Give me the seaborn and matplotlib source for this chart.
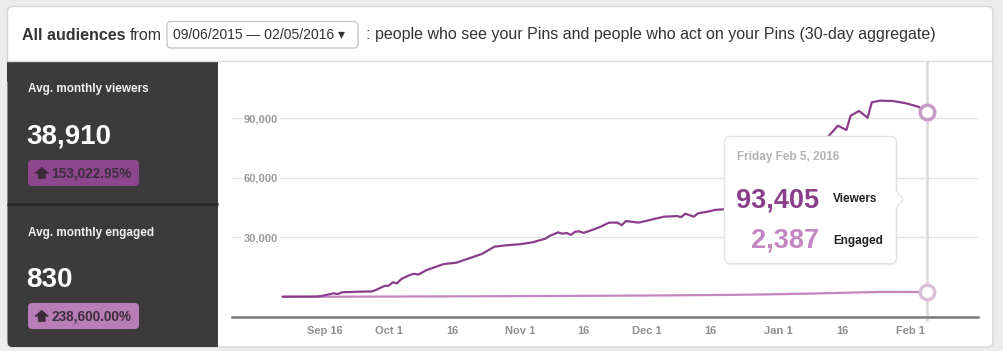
import matplotlib
matplotlib.use("Agg")
import matplotlib.pyplot as plt
import pandas as pd
import seaborn as sns
from matplotlib.patches import FancyBboxPatch, Rectangle, Polygon

# ---------------- data ----------------
viewer_dates = ['2015-09-06', '2015-09-10', '2015-09-14', '2015-09-15', '2015-09-17', '2015-09-18',
                '2015-09-19', '2015-09-20', '2015-09-24', '2015-09-27', '2015-09-28', '2015-09-30',
                '2015-10-01', '2015-10-02', '2015-10-03', '2015-10-04', '2015-10-06', '2015-10-07',
                '2015-10-08', '2015-10-10', '2015-10-14', '2015-10-17', '2015-10-20', '2015-10-23',
                '2015-10-26', '2015-10-29', '2015-11-01', '2015-11-04', '2015-11-07', '2015-11-08',
                '2015-11-10', '2015-11-11', '2015-11-12', '2015-11-13', '2015-11-14', '2015-11-15',
                '2015-11-16', '2015-11-18', '2015-11-20', '2015-11-22', '2015-11-24', '2015-11-25',
                '2015-11-26', '2015-11-29', '2015-12-01', '2015-12-05', '2015-12-08', '2015-12-09',
                '2015-12-10', '2015-12-12', '2015-12-13', '2015-12-15', '2015-12-17', '2015-12-19',
                '2015-12-22', '2015-12-26', '2015-12-30', '2016-01-03', '2016-01-06', '2016-01-09',
                '2016-01-11', '2016-01-13', '2016-01-15', '2016-01-17', '2016-01-18', '2016-01-20',
                '2016-01-22', '2016-01-23', '2016-01-25', '2016-01-28', '2016-01-31', '2016-02-03',
                '2016-02-05']
viewer_values = [61, 70, 120, 350, 1260, 1760,
                 1410, 2270, 2570, 2700, 3430, 5440,
                 5600, 7310, 6800, 8970, 11000, 11600,
                 11200, 13500, 16500, 17200, 19400, 21600,
                 25300, 26000, 26500, 27500, 29300, 30700,
                 32500, 31800, 32200, 31200, 32800, 33000,
                 32200, 33700, 35300, 37400, 37400, 36100,
                 38200, 37400, 38400, 40400, 40700, 40200,
                 41900, 40400, 42100, 42800, 43800, 44100,
                 45200, 46800, 49500, 55000, 62000, 70500,
                 76500, 81500, 86300, 84100, 91300, 93700,
                 90300, 98100, 98900, 98700, 97600, 95800,
                 93405]

engaged_dates = ['2015-09-06', '2015-09-20', '2015-10-05', '2015-10-20', '2015-11-05', '2015-11-20',
                 '2015-12-05', '2015-12-20', '2016-01-01', '2016-01-10', '2016-01-20', '2016-01-26',
                 '2016-02-01', '2016-02-05']
engaged_values = [1, 60, 150, 250, 380, 520,
                  700, 950, 1300, 1700, 2200, 2480,
                  2430, 2387]

x_tick_dates = ['2015-09-16', '2015-10-01', '2015-10-16', '2015-11-01', '2015-11-16',
                '2015-12-01', '2015-12-16', '2016-01-01', '2016-01-16', '2016-02-01']
x_tick_labels = ['Sep 16', 'Oct 1', '16', 'Nov 1', '16', 'Dec 1', '16', 'Jan 1', '16', 'Feb 1']
y_ticks = [30000, 60000, 90000]

kpi_titles = ['Avg. monthly viewers', 'Avg. monthly engaged']
kpi_values = ['38,910', '830']
kpi_changes = ['153,022.95%', '238,600.00%']
series_names = ['Viewers', 'Engaged']
date_range_label = '09/06/2015 \u2014 02/05/2016'
header_bold = 'All audiences'
header_from = 'from'
header_rest = ': people who see your Pins and people who act on your Pins (30-day aggregate)'

# ---------------- style ----------------
VIEW_C = '#8a3e8a'
ENG_C = '#c386c1'
sns.set_theme(style='white')
plt.rcParams['font.family'] = ['Liberation Sans', 'DejaVu Sans']

W, H = 1004, 351
fig = plt.figure(figsize=(W / 100, H / 100), dpi=100, facecolor='#ececec')
renderer = fig.canvas.get_renderer()

# background axes in pixel coordinates (y down)
bg = fig.add_axes([0, 0, 1, 1], zorder=0)
bg.set_xlim(0, W)
bg.set_ylim(H, 0)
bg.axis('off')

bg.add_patch(FancyBboxPatch((7.5, 6.5), 985.5, 340.5, boxstyle='round,pad=0,rounding_size=5',
                            fc='white', ec='#d6d6d6', lw=1))
bg.plot([7.5, 993], [61, 61], color='#dcdcdc', lw=1)

# left dark panel
PANEL = '#3b3b3b'
bg.add_patch(FancyBboxPatch((7.5, 61.5), 210.5, 285.5, boxstyle='round,pad=0,rounding_size=5',
                            fc=PANEL, ec='none'))
bg.add_patch(Rectangle((7.5, 61.5), 210.5, 20, fc=PANEL, ec='none'))
bg.add_patch(Rectangle((195, 61.5), 23, 285.5, fc=PANEL, ec='none'))
bg.plot([7.5, 218], [203.5, 203.5], color='#2a2a2a', lw=2.2, solid_capstyle='butt')

badge_colors = ['#8d478d', '#b87db6']
title_y = [89, 233]
value_y = [136, 280]
badge_y = [160, 303]
ICON_C = '#3a2a3a'
for i in range(2):
    bg.text(28, title_y[i], kpi_titles[i], color='#f2f2f2', fontsize=8.5, fontweight='bold', va='center')
    bg.text(26.5, value_y[i], kpi_values[i], color='white', fontsize=20, fontweight='bold', va='center')
    bg.add_patch(FancyBboxPatch((28, badge_y[i]), 111, 26, boxstyle='round,pad=0,rounding_size=4',
                                fc=badge_colors[i], ec='none'))
    by = badge_y[i]
    bg.add_patch(Polygon([(41.7, by + 7.3), (48.5, by + 13.2), (45.2, by + 13.2), (45.2, by + 18.5),
                          (38.2, by + 18.5), (38.2, by + 13.2), (35, by + 13.2)], closed=True,
                         fc=ICON_C, ec=ICON_C, lw=0.5))
    bg.text(51.5, by + 13.5, kpi_changes[i], color='#3d2e3d', fontsize=9.8, fontweight='bold',
            va='center')

# header
HC = '#333333'
t1 = bg.text(22, 35, header_bold, fontsize=11.5, fontweight='bold', color=HC, va='center')
x1 = t1.get_window_extent(renderer).x1
bg.text(x1 + 4, 35, header_from, fontsize=11.5, color=HC, va='center')
bg.add_patch(FancyBboxPatch((167, 21.5), 191, 26.5, boxstyle='round,pad=0,rounding_size=4',
                            fc='white', ec='#c8c8c8', lw=1))
bg.text(173, 35, date_range_label + ' \u25be', fontsize=10, color=HC, va='center')
bg.text(366, 35, header_rest, fontsize=11.5, color=HC, va='center')

# ---------------- chart ----------------
L, R, T, B = 232, 978, 62, 317
ax = fig.add_axes([L / W, 1 - B / H, (R - L) / W, (B - T) / H], zorder=1)
ax.set_facecolor('none')

vdf = pd.DataFrame({'date': pd.to_datetime(viewer_dates), 'value': viewer_values})
edf = pd.DataFrame({'date': pd.to_datetime(engaged_dates), 'value': engaged_values})
sns.lineplot(data=edf, x='date', y='value', ax=ax, color=ENG_C, lw=1.6, zorder=3)
sns.lineplot(data=vdf, x='date', y='value', ax=ax, color=VIEW_C, lw=1.6, zorder=4)

ax.set_ylim(-10185, 118386)
ax.set_xlim(pd.Timestamp('2015-09-16') - pd.Timedelta(days=21.94),
            pd.Timestamp('2015-09-16') + pd.Timedelta(days=154.05))
ax.set_xticks(pd.to_datetime(x_tick_dates))
ax.set_xticklabels(x_tick_labels)
ax.set_yticks(y_ticks)
ax.set_yticklabels([f'{v:,}' for v in y_ticks])
ax.set_xlabel('')
ax.set_ylabel('')
ax.yaxis.grid(True, color='#e3e3e3', lw=1)
ax.xaxis.grid(False)
ax.tick_params(axis='x', length=0, pad=6.5, labelsize=8, labelcolor='#8f8f8f')
ax.tick_params(axis='y', length=0, pad=-8.5, labelsize=8, labelcolor='#9a9a9a')
for lbl in ax.get_xticklabels():
    lbl.set_fontweight('bold')
for lbl in ax.get_yticklabels():
    lbl.set_fontweight('bold')
    lbl.set_horizontalalignment('left')
    lbl.set_bbox(dict(facecolor='white', edgecolor='none', pad=1.5))
for s in ['top', 'left', 'right']:
    ax.spines[s].set_visible(False)
ax.spines['bottom'].set_color('#7a7a7a')
ax.spines['bottom'].set_linewidth(1.8)

# hover line + markers
hover = vdf['date'].iloc[-1]
ax.axvline(hover, ymin=-0.012, ymax=1, color='#d9d9d9', lw=1.8, zorder=2, clip_on=False)
ax.plot([hover], [vdf['value'].iloc[-1]], 'o', ms=10.5, mfc='white', mec='#c49bc3', mew=2.4, zorder=6)
ax.plot([hover], [edf['value'].iloc[-1]], 'o', ms=10.5, mfc='white', mec='#dcbedb', mew=2.4, zorder=6)

# ---------------- tooltip overlay ----------------
top = fig.add_axes([0, 0, 1, 1], zorder=5)
top.set_xlim(0, W)
top.set_ylim(H, 0)
top.axis('off')
top.patch.set_alpha(0)
top.add_patch(FancyBboxPatch((725.5, 138.5), 172, 127, boxstyle='round,pad=0,rounding_size=6',
                             fc='#000000', ec='none', alpha=0.06))
top.add_patch(FancyBboxPatch((724.5, 136.5), 172, 127, boxstyle='round,pad=0,rounding_size=6',
                             fc='white', ec='#e4e4e4', lw=1))
top.add_patch(Polygon([(896.5, 192), (903.5, 199.5), (896.5, 207)], closed=True,
                      fc='white', ec='#e4e4e4', lw=1))
top.plot([896.5, 896.5], [193, 206], color='white', lw=1.6)

hover_text = f"{hover.strftime('%A')} {hover.strftime('%b')} {hover.day}, {hover.year}"
top.text(737, 157, hover_text, fontsize=8.5, fontweight='bold', color='#b3b3b3', va='center')
top.text(819.5, 200, f"{vdf['value'].iloc[-1]:,}", fontsize=19.5, fontweight='bold',
         color=VIEW_C, ha='right', va='center')
top.text(833, 199, series_names[0], fontsize=8.5, fontweight='bold', color='#222222', va='center')
top.text(819.5, 241, f"{edf['value'].iloc[-1]:,}", fontsize=19.5, fontweight='bold',
         color=ENG_C, ha='right', va='center')
top.text(833, 241, series_names[1], fontsize=8.5, fontweight='bold', color='#222222', va='center')

fig.savefig('out.png', dpi=100, facecolor=fig.get_facecolor())
